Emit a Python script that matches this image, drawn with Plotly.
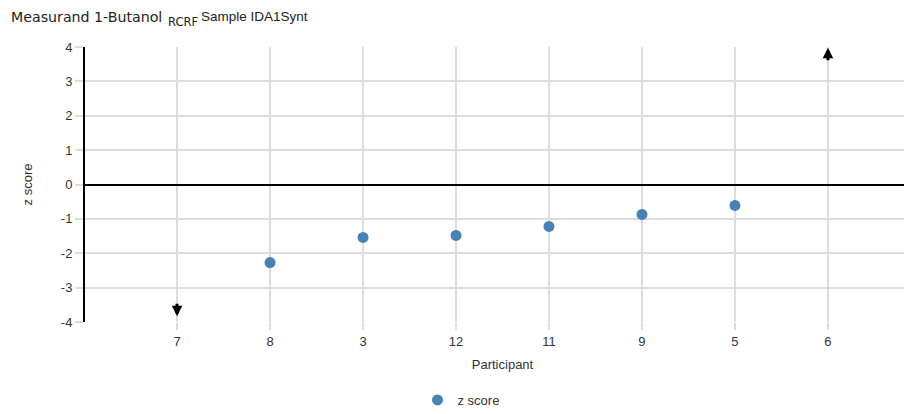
import plotly.graph_objects as go

participants = ["7", "8", "3", "12", "11", "9", "5", "6"]
z_scores = [None, -2.27, -1.54, -1.48, -1.22, -0.87, -0.61, None]
below_range = ["7"]   # z score below -4 (shown as arrow)
above_range = ["6"]   # z score above 4 (shown as arrow)
y_ticks = [-4, -3, -2, -1, 0, 1, 2, 3, 4]
y_ticktext = ["-4", "-3", "-2", "-1", "0", "1", "2", "3", "4"]
y_min, y_max = -4, 4

font = "Liberation Sans, Arial, sans-serif"
wide_font = "DejaVu Sans, sans-serif"
OFF = 8  # page body offset
L, T, R, B = 77, 39, 0, 100
W, H = 912 - L - R, 414 - T - B

def px(x):
    return (x - OFF - L) / W

def py(y):
    return 1 - (y - OFF - T) / H

fig = go.Figure()
fig.add_trace(go.Scatter(
    x=participants, y=z_scores, mode="markers", name="z score",
    marker=dict(color="#4682B4", size=11),
))

annotations = []
for p in below_range:
    annotations.append(dict(x=participants.index(p), y=y_min + 0.17, xref="x", yref="y",
                            ax=0, ay=-14, showarrow=True, arrowhead=2, arrowsize=0.7,
                            arrowwidth=3, arrowcolor="black", text=""))
for p in above_range:
    annotations.append(dict(x=participants.index(p), y=y_max - 0.02, xref="x", yref="y",
                            ax=0, ay=14, showarrow=True, arrowhead=2, arrowsize=0.7,
                            arrowwidth=3, arrowcolor="black", text=""))
annotations += [
    dict(text="Measurand 1-Butanol", xref="paper", yref="paper", x=px(9), y=py(17),
         xanchor="left", yanchor="middle", showarrow=False,
         font=dict(size=14.2, color="#222", family=wide_font)),
    dict(text="RCRF", xref="paper", yref="paper", x=px(166), y=py(22),
         xanchor="left", yanchor="middle", showarrow=False,
         font=dict(size=11.5, color="#222", family=wide_font)),
    dict(text="Sample IDA1Synt", xref="paper", yref="paper", x=px(199), y=py(17),
         xanchor="left", yanchor="middle", showarrow=False,
         font=dict(size=13.5, color="#222", family=font)),
]

fig.update_layout(
    width=912, height=414,
    margin=dict(l=L, r=R, t=T, b=B, autoexpand=False),
    paper_bgcolor="white", plot_bgcolor="white",
    font=dict(family=font, size=13, color="#333"),
    showlegend=True,
    legend=dict(orientation="h", x=px(461), xanchor="center", y=py(400), yanchor="middle",
                font=dict(size=13, color="#333")),
    annotations=annotations,
    xaxis=dict(
        categoryorder="array", categoryarray=participants,
        range=[-0.99, 7.99], automargin=False,
        showgrid=True, gridcolor="#dddddd", gridwidth=1.5,
        ticks="outside", ticklen=7, tickcolor="#dddddd", tickwidth=1.5,
        showline=False, zeroline=False,
        title=dict(text="Participant", font=dict(size=13, color="#333"), standoff=12),
        tickfont=dict(size=13, color="#333"),
    ),
    yaxis=dict(
        range=[y_min, y_max], tickvals=y_ticks, ticktext=y_ticktext, automargin=False,
        showgrid=True, gridcolor="#dddddd", gridwidth=1.5,
        ticks="outside", ticklen=8, tickcolor="#dddddd", tickwidth=1.5,
        showline=True, linecolor="black", linewidth=2,
        zeroline=True, zerolinecolor="black", zerolinewidth=2,
        title=dict(text="z score", font=dict(size=13, color="#333"), standoff=25),
        tickfont=dict(size=13, color="#333"),
    ),
)

fig.write_html("out.html")
